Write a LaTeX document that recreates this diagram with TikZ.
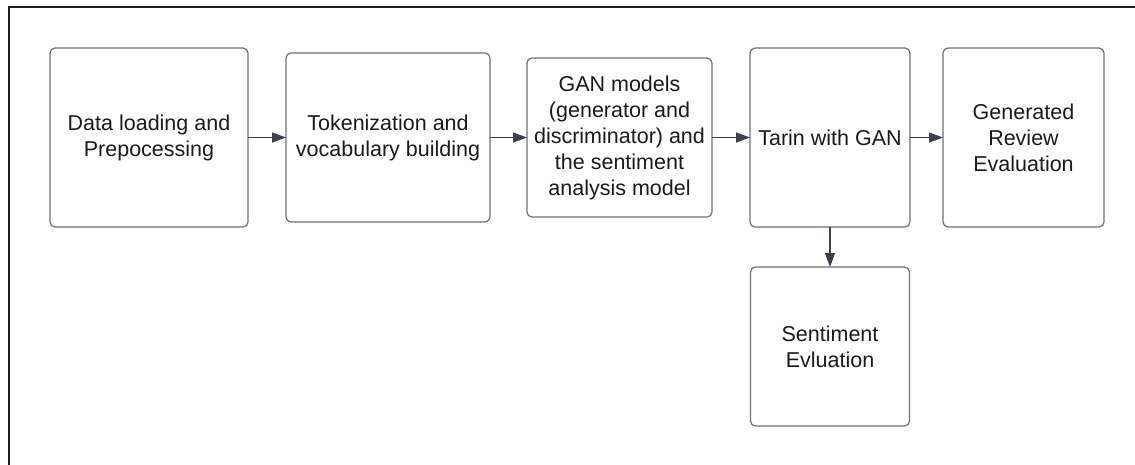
\documentclass[tikz,border=0pt]{standalone}
\usepackage{fontspec}
\setmainfont{Liberation Sans}
\usetikzlibrary{arrows.meta}
\definecolor{boxgray}{HTML}{6E7178}
\definecolor{arrowgray}{HTML}{3A414A}
\definecolor{textblack}{HTML}{1A1A1A}
\definecolor{framecol}{HTML}{1E1E1E}
\tikzset{
  box/.style={draw=boxgray, line width=1.2pt, rounded corners=5pt, fill=white,
    align=center, font=\fontsize{21.5}{26}\selectfont, text=textblack,
    inner sep=0pt, outer sep=0pt},
  conn/.style={draw=arrowgray, line width=1.3pt, -{Triangle[length=14pt,width=10pt]}},
  frame/.style={draw=framecol, line width=2pt}
}
\begin{document}
\begin{tikzpicture}[x=1pt,y=-1pt]
\useasboundingbox (0,0) rectangle (1135,464);
\fill[white] (0,0) rectangle (1135,464);
\draw[frame] (1136,7) -- (9,7) -- (9,465);
\node[box, minimum width=198pt, minimum height=179pt] (b1) at (149,137.5) {Data loading and\\Prepocessing};
\node[box, minimum width=204pt, minimum height=169pt] (b2) at (388,137.5) {Tokenization and\\vocabulary building};
\node[box, minimum width=185pt, minimum height=159pt] (b3) at (619.5,137.5) {GAN models\\(generator and\\discriminator) and\\the sentiment\\analysis model};
\node[box, minimum width=160pt, minimum height=179pt] (b4) at (830,137.5) {Tarin with GAN};
\node[box, minimum width=161pt, minimum height=179pt] (b5) at (1023.5,137.5) {Generated\\Review\\Evaluation};
\node[box, minimum width=159pt, minimum height=159pt] (b6) at (830,346.5) {Sentiment\\Evluation};
\draw[conn] (b1.east) -- (b2.west);
\draw[conn] (b2.east) -- (b3.west);
\draw[conn] (b3.east) -- (b4.west);
\draw[conn] (b4.east) -- (b5.west);
\draw[conn] (b4.south) -- (b6.north);
\end{tikzpicture}
\end{document}
